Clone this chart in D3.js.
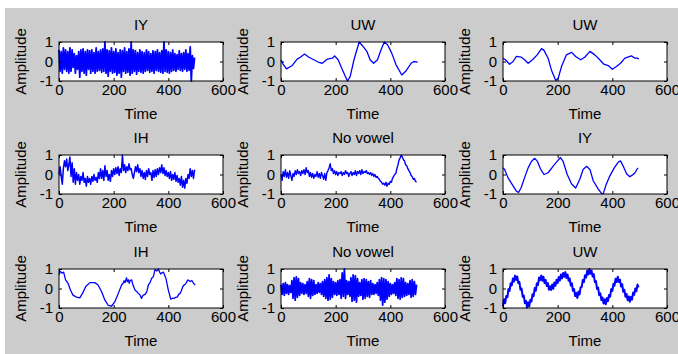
<!DOCTYPE html>
<html><head><meta charset="utf-8">
<script src="https://cdn.jsdelivr.net/npm/d3@7"></script>
<style>body{margin:0;background:#fff}svg{display:block}</style>
</head><body>
<script>
// ---------- data ----------
const titles = ["IY","UW","UW","IH","No vowel","IY","IH","No vowel","UW"];
const xTicks = [0,200,400,600];
const yTicks = [-1,0,1];
const xLabel = "Time";
const yLabel = "Amplitude";
const noisyStep = 4; // sample spacing of the dense series

// panel 1: IY (dense)
const iyNoisy = [0.6,-0.5,0.5,-0.6,0.7,-0.4,0.6,-0.5,0.5,-0.6,
 0.7,-0.5,0.6,-0.3,0.4,-0.6,0.3,-0.4,0.5,-0.8,
 0.6,-0.5,0.65,-0.6,0.5,-0.7,0.6,-0.4,0.55,-0.6,
 0.6,-0.5,0.45,-0.6,0.7,-0.5,0.5,-0.45,0.6,-0.55,
 0.65,-0.5,1.0,-0.6,0.6,-0.75,0.55,-0.5,0.7,-0.6,
 0.5,-0.55,0.65,-0.7,0.45,-0.6,0.6,-0.8,0.55,-0.5,
 0.7,-0.6,0.5,-0.55,0.65,-0.7,1.0,-0.6,0.6,-0.5,
 0.55,-0.65,0.45,-0.5,0.6,-0.55,0.5,-0.6,0.45,-0.5,
 0.6,-0.45,0.5,-0.55,0.4,-0.5,0.55,-0.6,0.5,-0.45,
 0.6,-0.5,0.45,-0.55,0.55,-0.6,1.0,-0.5,0.6,-0.55,
 0.5,-0.6,0.45,-0.5,0.6,-0.45,0.4,-0.5,0.35,-0.4,
 0.55,-0.45,0.4,-0.5,0.45,-0.4,0.6,-0.5,0.4,-0.45,
 0.75,-1.0,0.3,-0.35,0.2];

// panel 2: UW (smooth)
const uwATime = [0,7,20,40,59,71,86,102,120,139,151,169,188,196,209,225,243,253,267,286,298,314,326,339,353,366,378,390,405,421,442,458,476,486,500];
const uwAVal  = [0.09,-0.12,-0.38,-0.22,0.12,0.22,0.38,0.22,0.09,-0.05,-0.09,0.12,0.17,0.29,0.09,-0.43,-1.0,-0.78,0.09,1.0,0.81,0.52,0.09,-0.09,0.09,0.6,1.0,0.86,0.43,-0.17,-0.69,-0.47,-0.09,0.0,-0.03];

// panel 3: UW (smooth)
const uwBTime = [0,9,24,37,49,67,79,92,108,125,141,150,165,177,193,202,214,232,251,266,284,299,318,336,354,369,385,400,415,430,446,470,483,491,497];
const uwBVal  = [0.16,0.09,-0.14,0.0,0.26,0.22,0.09,-0.09,0.09,0.34,0.66,0.57,0.17,-0.43,-0.98,-0.86,-0.26,0.34,0.47,0.26,0.09,0.22,0.52,0.34,0.09,-0.14,-0.21,-0.4,-0.26,-0.09,0.17,0.29,0.17,0.17,0.14];

// panel 4: IH (noisy)
const ihNoisy = [0.0,0.4,-0.1,-0.5,0.3,0.7,0.4,0.8,0.2,0.5,
 0.9,-0.1,0.6,-0.4,0.3,-0.5,0.1,-0.3,0.0,-0.5,
 -0.1,-0.3,0.1,-0.4,-0.2,-0.6,-0.1,-0.4,-0.2,-0.5,
 -0.1,-0.35,0.0,-0.3,-0.15,-0.4,0.1,-0.2,0.3,-0.2,
 0.2,-0.3,0.45,-0.1,0.2,-0.3,0.0,-0.35,0.2,-0.1,
 0.3,0.0,0.35,0.05,0.4,-0.05,0.3,0.1,1.0,0.2,
 0.5,0.1,0.4,0.2,0.55,0.25,0.3,0.0,-0.2,0.1,
 0.4,0.15,0.5,0.1,0.3,-0.1,0.2,-0.2,0.1,-0.25,
 0.2,-0.1,0.3,0.0,0.1,-0.3,0.2,-0.15,0.25,-0.1,
 0.3,0.0,0.35,0.1,0.5,0.05,0.35,-0.05,0.2,-0.1,
 0.1,-0.2,0.15,-0.3,0.0,-0.25,0.1,-0.35,-0.05,-0.4,
 -0.2,-0.55,-0.1,-0.65,-0.3,-0.7,-0.2,-0.45,0.0,-0.2,
 0.3,-0.1,0.2,-0.2,0.25];

// panel 5: No vowel (moderate)
const nvA = [0.0,-0.3,0.15,-0.1,0.25,-0.15,0.1,-0.2,0.2,-0.05,
 -0.3,0.05,-0.1,0.2,0.0,0.25,0.05,0.15,-0.05,0.2,
 0.05,0.25,0.0,0.35,0.1,0.2,-0.1,0.1,-0.15,0.05,
 -0.2,0.0,-0.1,0.15,-0.15,0.05,-0.2,0.1,-0.05,-0.25,
 0.05,-0.3,0.1,0.2,0.35,0.55,0.2,0.3,0.05,0.2,
 0.0,0.15,-0.05,0.1,0.05,0.15,-0.05,0.1,0.0,0.2,
 0.05,0.1,-0.1,0.05,0.15,-0.05,0.1,0.0,0.2,-0.05,
 0.15,0.05,0.2,0.0,0.25,0.05,0.15,0.1,0.2,0.05,
 0.1,0.0,0.1,-0.05,0.05,-0.1,0.0,-0.15,-0.1,-0.2,
 -0.25,-0.35,-0.4,-0.5,-0.45,-0.55,-0.4,-0.6,-0.45,-0.5,
 -0.35,-0.4,-0.2,-0.1,0.0,0.05,0.3,0.5,0.75,0.85,
 1.0,0.9,0.75,0.7,0.5,0.45,0.3,0.2,0.1,-0.05,
 -0.1,-0.25,-0.2,-0.35,-0.4];

// panel 6: IY (smooth)
const iyTime = [0,6,18,34,49,57,67,79,92,104,116,126,137,150,165,183,198,210,220,235,251,266,281,293,306,318,330,348,361,367,376,391,407,422,430,440,452,464,474,483,492,495];
const iyVal  = [0.34,0.26,-0.16,-0.52,-0.85,-0.92,-0.65,-0.16,0.34,0.67,0.83,0.67,0.29,0.0,0.09,0.42,0.67,0.87,0.67,0.0,-0.49,-0.69,-0.24,0.26,0.42,0.26,-0.32,-0.74,-0.98,-0.98,-0.57,-0.07,0.34,0.64,0.7,0.42,0.04,-0.12,-0.02,0.09,0.31,0.31];

// panel 7: IH (smooth with jitter)
const ihTime = [0,5,11,17,24,33,42,51,64,76,86,98,113,131,143,156,168,180,192,204,217,229,235,238,242,247,250,254,257,261,266,270,278,284,290,296,302,305,309,315,321,327,333,339,345,351,358,364,368,372,376,382,386,391,400,409,415,421,427,433,438,443,448,453,458,462,466,471,476,480,486,492,498];
const ihVal  = [0.7,0.88,0.79,0.84,0.44,0.27,-0.08,-0.34,-0.44,-0.48,-0.25,0.1,0.3,0.3,0.18,-0.17,-0.6,-0.86,-0.91,-0.69,-0.25,0.18,0.28,0.4,0.3,0.55,0.35,0.45,0.27,0.42,0.44,0.2,-0.08,-0.15,-0.25,-0.32,-0.51,-0.4,-0.34,-0.3,-0.17,0.18,0.3,0.53,0.6,0.97,0.9,1.0,0.85,0.74,0.8,0.84,0.7,0.53,-0.08,-0.55,-0.5,-0.51,-0.45,-0.43,-0.3,-0.25,-0.1,0.1,0.18,0.22,0.3,0.44,0.4,0.36,0.41,0.27,0.18];

// panel 8: No vowel (dense)
const nvB = [0.2,-0.3,0.25,-0.35,0.3,-0.25,0.2,-0.3,0.15,-0.2,
 0.4,-0.5,0.55,-0.6,0.6,-0.45,0.5,-0.35,0.3,-0.25,
 0.25,-0.3,0.2,-0.25,0.35,-0.4,0.5,-0.5,0.45,-0.35,
 0.4,-0.3,0.2,-0.25,0.3,-0.2,0.25,-0.3,0.35,-0.4,
 0.45,-0.5,0.55,-0.6,0.7,-0.55,0.5,-0.45,0.35,-0.3,
 0.3,-0.35,0.4,-0.3,0.45,-0.5,0.8,-0.4,1.0,-0.5,
 0.4,-0.3,0.35,-0.4,0.55,-0.65,0.7,-0.6,0.65,-0.7,
 0.5,-0.4,0.3,-0.35,0.45,-0.55,0.5,-0.5,0.45,-0.4,
 0.35,-0.45,0.4,-0.3,0.25,-0.3,0.2,-0.25,0.3,-0.35,
 0.45,-0.6,0.55,-0.85,0.5,-0.7,0.45,-0.55,0.35,-0.4,
 0.25,-0.3,0.2,-0.25,0.3,-0.35,0.5,-0.5,0.45,-0.55,
 0.55,-0.45,0.5,-0.4,0.3,-0.35,0.25,-0.3,0.4,-0.45,
 0.45,-0.4,0.35,-0.3,0.2];

// panel 9: UW (thick, noisy)
const uwC = [-0.9,-0.55,-0.75,-0.38,-0.45,-0.03,-0.12,0.27,0.16,0.51,
 0.35,0.66,0.44,0.62,0.28,0.34,-0.07,0.0,-0.42,-0.36,
 -0.75,-0.63,-0.98,-0.71,-0.92,-0.58,-0.67,-0.29,-0.39,0.02,
 -0.12,0.27,0.18,0.57,0.43,0.67,0.4,0.6,0.28,0.44,
 0.13,0.28,-0.06,0.12,-0.08,0.2,-0.01,0.31,0.14,0.45,
 0.28,0.59,0.41,0.72,0.52,0.8,0.6,0.84,0.54,0.72,
 0.4,0.52,0.15,0.27,-0.12,-0.03,-0.39,-0.23,-0.49,-0.16,
 -0.31,0.07,0.08,0.44,0.33,0.68,0.56,0.91,0.72,1.0,
 0.76,0.92,0.61,0.74,0.33,0.38,-0.02,0.05,-0.34,-0.25,
 -0.59,-0.46,-0.77,-0.55,-0.81,-0.49,-0.65,-0.33,-0.42,-0.03,
 -0.12,0.24,0.15,0.5,0.33,0.6,0.33,0.45,0.1,0.22,
 -0.17,-0.07,-0.42,-0.28,-0.6,-0.41,-0.68,-0.43,-0.57,-0.21,
 -0.33,0.0,-0.14,0.2,0.06];

// ---------- layout ----------
const W = 678, H = 354;
const colX = [59, 281, 503], rowY = [42, 155, 269];
const pw = 164, ph = 39;
const font = "'Liberation Sans', Arial, Helvetica, sans-serif";

const seq = arr => arr.map((v, i) => [i * noisyStep, v]);
const zip = (t, v) => t.map((d, i) => [d, v[i]]);
const series = [
  seq(iyNoisy), zip(uwATime, uwAVal), zip(uwBTime, uwBVal),
  seq(ihNoisy), seq(nvA), zip(iyTime, iyVal),
  zip(ihTime, ihVal), seq(nvB), seq(uwC)
];
const widths = [1.8, 1.3, 1.3, 1.5, 1.4, 1.3, 1.3, 1.8, 2];

const svg = d3.select("body").append("svg").attr("width", W).attr("height", H);
svg.append("rect").attr("width", W).attr("height", H).attr("fill", "#fff");
svg.append("rect").attr("x", 5).attr("y", 8).attr("width", W - 5).attr("height", H - 8).attr("fill", "#cccccc");

series.forEach((data, k) => {
  const r = Math.floor(k / 3), c = k % 3;
  const x0 = colX[c], y0 = rowY[r];
  const g = svg.append("g").attr("transform", `translate(${x0},${y0})`);
  const x = d3.scaleLinear().domain([0, 600]).range([0, pw]);
  const y = d3.scaleLinear().domain([-1, 1]).range([ph, 0]);

  g.append("rect").attr("width", pw).attr("height", ph).attr("fill", "#fff");

  g.append("path").datum(data)
    .attr("fill", "none").attr("stroke", "#0000ff").attr("stroke-width", widths[k])
    .attr("stroke-linejoin", "round")
    .attr("d", d3.line().x(d => x(d[0])).y(d => y(d[1])));

  const styleAxis = sel => {
    sel.select(".domain").remove();
    sel.selectAll("line").attr("stroke", "#000");
    sel.selectAll("text").attr("fill", "#000").style("font-family", font).style("font-size", "15px");
  };
  g.append("g").attr("transform", `translate(0,${ph})`)
    .call(d3.axisBottom(x).tickValues(xTicks).tickSizeInner(-3).tickSizeOuter(0).tickPadding(3).tickFormat(d3.format("d")))
    .call(styleAxis);
  g.append("g")
    .call(d3.axisTop(x).tickValues(xTicks).tickSizeInner(-3).tickSizeOuter(0).tickFormat(""))
    .call(styleAxis);
  g.append("g")
    .call(d3.axisLeft(y).tickValues(yTicks).tickSizeInner(-3).tickSizeOuter(0).tickPadding(6).tickFormat(d => d < 0 ? "-" + Math.abs(d) : String(d)))
    .call(styleAxis);
  g.append("g").attr("transform", `translate(${pw},0)`)
    .call(d3.axisRight(y).tickValues(yTicks).tickSizeInner(-3).tickSizeOuter(0).tickFormat(""))
    .call(styleAxis);

  g.append("rect").attr("width", pw).attr("height", ph)
    .attr("fill", "none").attr("stroke", "#000").attr("stroke-width", 1);

  g.append("text").attr("x", pw / 2).attr("y", -12).attr("text-anchor", "middle")
    .style("font-family", font).style("font-size", "15px").text(titles[k]);
  g.append("text").attr("x", pw / 2).attr("y", ph + 38).attr("text-anchor", "middle")
    .style("font-family", font).style("font-size", "15px").text(xLabel);
  g.append("text").attr("transform", `translate(-33,${ph / 2}) rotate(-90)`).attr("text-anchor", "middle")
    .style("font-family", font).style("font-size", "15px").text(yLabel);
});
</script>
</body></html>
